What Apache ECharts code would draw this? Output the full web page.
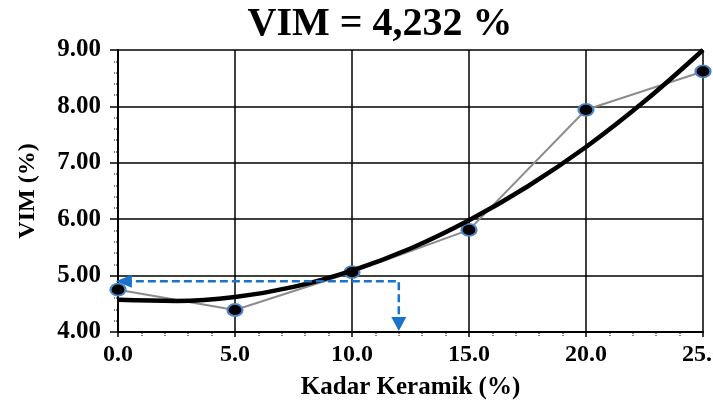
<!DOCTYPE html>
<html>
<head>
<meta charset="utf-8">
<script src="https://cdn.jsdelivr.net/npm/echarts@6/dist/echarts.min.js"></script>
<style>html,body{margin:0;padding:0;background:#fff;overflow:hidden;}#c{width:713px;height:405px;}</style>
</head>
<body>
<div id="c"></div>
<script>
// Measured data points (Kadar Keramik %, VIM %)
const kadar = [0, 5, 10, 15, 20, 25];
const vim = [4.75, 4.39, 5.06, 5.81, 7.94, 8.62];
// Trend curve
const trendX = [0, 2.5, 5, 7.5, 10, 12.5, 15, 17.5, 20, 22.5, 25];
const trendY = [4.57, 4.55, 4.62, 4.80, 5.09, 5.48, 5.98, 6.58, 7.28, 8.09, 9.00];
// Guide (dashed arrows)
const guideX = 12.0;
const guideY = 4.90;
const arrowLeftX = 0.25;  // centre of the left-pointing arrowhead
const arrowDownY = 4.14;  // centre of the down-pointing arrowhead
const titleText = 'VIM = 4,232 %';
const xName = 'Kadar Keramik (%)';
const yName = 'VIM (%)';

const FONT = '"Liberation Serif", "Times New Roman", serif';
const BLUE = '#1a73c9';
const chart = echarts.init(document.getElementById('c'), null, {renderer: 'canvas'});
chart.setOption({
  animation: false,
  backgroundColor: '#fff',
  title: {
    text: titleText, left: 375, top: 0, textAlign: 'center',
    textStyle: {fontFamily: FONT, fontWeight: 'bold', fontSize: 40, color: '#000'}
  },
  grid: {left: 118, right: 10, top: 50, bottom: 73, containLabel: false, outerBoundsMode: 'none'},
  xAxis: {
    type: 'value', min: 0, max: 25, interval: 5,
    name: xName, nameLocation: 'middle', nameGap: 43,
    nameTextStyle: {fontFamily: FONT, fontWeight: 'bold', fontSize: 25, color: '#000'},
    axisLine: {show: true, onZero: false, lineStyle: {color: '#000', width: 2}},
    axisTick: {show: true, length: 5, lineStyle: {color: '#000', width: 1.5}},
    minorTick: {show: true, splitNumber: 5, length: 4, lineStyle: {color: '#000', width: 2, type: [1.5, 2]}},
    axisLabel: {fontFamily: FONT, fontWeight: 'bold', fontSize: 24, color: '#000', margin: 11,
      formatter: v => v.toFixed(1)},
    splitLine: {show: true, lineStyle: {color: '#000', width: 1.5}}
  },
  yAxis: {
    type: 'value', min: 4, max: 9, interval: 1,
    name: yName, nameLocation: 'middle', nameGap: 78, nameRotate: 90,
    nameTextStyle: {fontFamily: FONT, fontWeight: 'bold', fontSize: 24, color: '#000'},
    axisLine: {show: true, onZero: false, lineStyle: {color: '#000', width: 2}},
    axisTick: {show: true, length: 8, lineStyle: {color: '#000', width: 1.5}},
    minorTick: {show: true, splitNumber: 5, length: 4, lineStyle: {color: '#000', width: 2, type: [1.5, 2]}},
    axisLabel: {fontFamily: FONT, fontWeight: 'bold', fontSize: 25, color: '#000', margin: 17,
      formatter: v => v.toFixed(2)},
    splitLine: {show: true, lineStyle: {color: '#000', width: 1.5}}
  },
  series: [
    {
      type: 'line', name: 'data', z: 3,
      data: kadar.map((x, i) => [x, vim[i]]),
      lineStyle: {color: '#8c8c8c', width: 2},
      symbol: 'circle', symbolSize: [15, 12],
      itemStyle: {color: '#000', borderColor: '#4a86c8', borderWidth: 2},
      clip: false
    },
    {
      type: 'line', name: 'trend', z: 4, smooth: 0.4, symbol: 'none',
      data: trendX.map((x, i) => [x, trendY[i]]),
      lineStyle: {color: '#000', width: 4.5},
      clip: false
    },
    {
      type: 'line', name: 'guide', z: 5, symbol: 'none',
      data: [[arrowLeftX, guideY], [guideX, guideY], [guideX, arrowDownY]],
      lineStyle: {color: BLUE, width: 2.5, type: [8, 4]},
      clip: false
    },
    {
      type: 'scatter', name: 'arrows', z: 6, symbol: 'triangle', clip: false,
      itemStyle: {color: BLUE, opacity: 1},
      data: [
        {value: [arrowLeftX, guideY], symbolRotate: 90, symbolSize: [13, 16]},
        {value: [guideX, arrowDownY], symbolRotate: 180, symbolSize: [15, 14]}
      ]
    }
  ]
});
</script>
</body>
</html>
